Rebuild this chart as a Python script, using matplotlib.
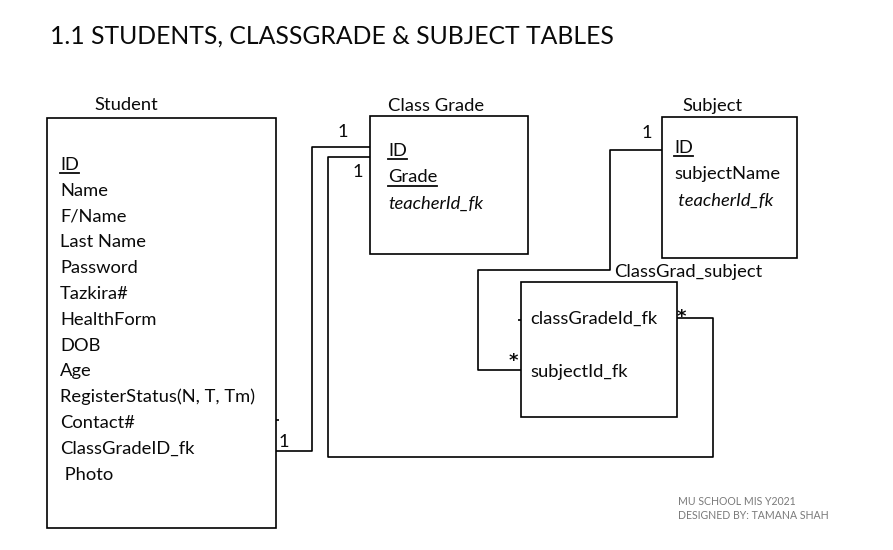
import matplotlib
matplotlib.use("Agg")
import matplotlib.pyplot as plt
from matplotlib.patches import Rectangle

FONT = "Lato"

title = "1.1 STUDENTS, CLASSGRADE & SUBJECT TABLES"
student_fields = ["ID", "Name", "F/Name", "Last Name", "Password", "Tazkira#",
                  "HealthForm", "DOB", "Age", "RegisterStatus(N, T, Tm)",
                  "Contact#", "ClassGradeID_fk", " Photo"]
classgrade_fields = ["ID", "Grade", "teacherId_fk"]
subject_fields = ["ID", "subjectName", " teacherId_fk"]
cgs_fields = ["classGradeId_fk", "subjectId_fk"]
footer = ["MU SCHOOL MIS Y2021", "DESIGNED BY: TAMANA SHAH"]

fig = plt.figure(figsize=(8.93, 5.5), dpi=100)
ax = fig.add_axes([0, 0, 1, 1])
ax.set_xlim(0, 893)
ax.set_ylim(550, 0)
ax.axis("off")

LW = 1.2
FS = 13.2
TXT = "#0a0a0a"


def box(x0, y0, x1, y1):
    ax.add_patch(Rectangle((x0, y0), x1 - x0, y1 - y0, fill=False,
                           edgecolor="black", linewidth=LW))


def text(x, y, s, fs=FS, style="normal", underline=False, color=TXT,
         family=FONT, weight="normal"):
    t = ax.text(x, y, s, fontsize=fs, family=family, style=style,
                va="baseline", ha="left", color=color, weight=weight)
    if underline:
        fig.canvas.draw()
        bb = t.get_window_extent()
        inv = ax.transData.inverted()
        (xa, _), (xb, _) = inv.transform([(bb.x0, bb.y0), (bb.x1, bb.y0)])
        ax.plot([xa, xb], [y + 3, y + 3], color=TXT, lw=1.3)
    return t


def path(xs, ys):
    ax.plot(xs, ys, color="black", lw=LW, solid_capstyle="butt")


# title
text(50, 44, title, fs=17.8)

# Student
text(94, 110, "Student")
box(47, 118, 276, 528)
for i, f in enumerate(student_fields):
    text(60, 170 + 25.8 * i, f, underline=(i == 0))

# Class Grade
text(388, 111, "Class Grade")
box(370, 116, 528, 254)
for i, f in enumerate(classgrade_fields):
    text(388, 156 + 26.5 * i, f, style="italic" if i == 2 else "normal",
         underline=(i < 2))

# Subject
text(682, 111, "Subject")
box(662, 117, 797, 258)
for i, f in enumerate(subject_fields):
    text(674, 153 + 26.5 * i, f, style="italic" if i == 2 else "normal",
         underline=(i == 0))

# ClassGrad_subject
text(614, 277, "ClassGrad_subject")
box(521, 282, 677, 417)
for i, f in enumerate(cgs_fields):
    text(530, 324 + 53 * i, f)

# connectors
path([276, 312, 312, 370], [451, 451, 147, 147])
path([370, 328, 328, 713, 713, 677], [157, 157, 457, 457, 318, 318])
path([662, 610, 610, 478, 478, 521], [150, 150, 270, 270, 370, 370])
path([518, 521], [320, 320])
path([276, 279], [420, 420])

# cardinalities
text(338, 137, "1")
text(353, 177, "1")
text(642, 138, "1")
text(279, 447, "1")
text(509, 366, "*", fs=13, family="DejaVu Sans", weight="bold")
text(677, 322, "*", fs=13, family="DejaVu Sans", weight="bold")

# footer
text(678, 505, footer[0], fs=7.6, color="#7a7a7a")
text(678, 519, footer[1], fs=7.6, color="#7a7a7a")

fig.savefig("out.png", dpi=100)
